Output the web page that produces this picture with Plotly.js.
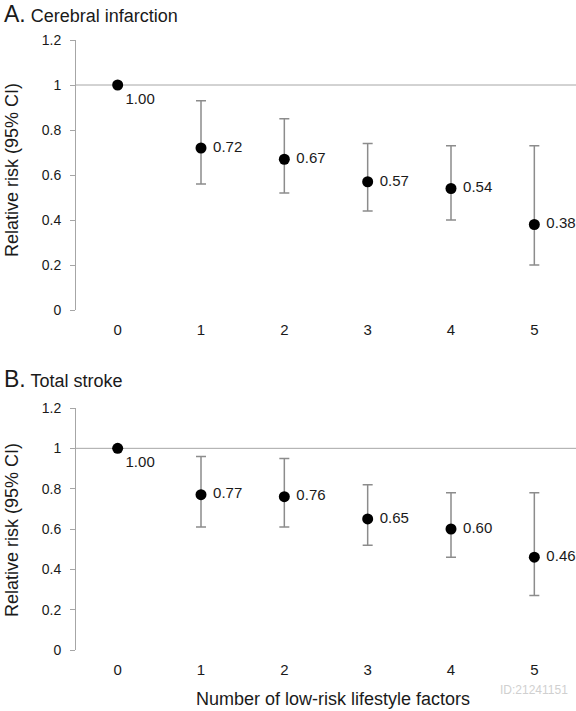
<!DOCTYPE html>
<html>
<head>
<meta charset="utf-8">
<script src="https://cdn.plot.ly/plotly-3.0.1.min.js"></script>
<style>
  html, body { margin: 0; padding: 0; background: #fff; }
  #chart { width: 576px; height: 711px; }
</style>
</head>
<body>
<div id="chart"></div>
<script>
// Categories: number of low-risk lifestyle factors
const factors = [0, 1, 2, 3, 4, 5];
const factorLabels = ['0', '1', '2', '3', '4', '5'];

// Panel A: Cerebral infarction
const ciRR = [1.00, 0.72, 0.67, 0.57, 0.54, 0.38];
const ciUpper = [1.00, 0.93, 0.85, 0.74, 0.73, 0.73];
const ciLower = [1.00, 0.56, 0.52, 0.44, 0.40, 0.20];

// Panel B: Total stroke
const tsRR = [1.00, 0.77, 0.76, 0.65, 0.60, 0.46];
const tsUpper = [1.00, 0.96, 0.95, 0.82, 0.78, 0.78];
const tsLower = [1.00, 0.61, 0.61, 0.52, 0.46, 0.27];

const yTicks = [0, 0.2, 0.4, 0.6, 0.8, 1, 1.2];
const yTickText = ['0', '0.2', '0.4', '0.6', '0.8', '1', '1.2'];

const FONT = 'Liberation Sans, Arial, sans-serif';
const TXT = '#1a1a1a';
const GRAY = '#a6a6a6';

function trace(rr, up, lo, xa, ya) {
  const hasBar = rr.map((v, i) => up[i] !== lo[i]);
  return {
    type: 'scatter',
    mode: 'markers+text',
    x: factors,
    y: rr,
    xaxis: xa, yaxis: ya,
    text: rr.map((v, i) => (i === 0 ? '' : '\u00a0') + v.toFixed(2)),
    textposition: rr.map((v, i) => i === 0 ? 'bottom right' : 'middle right'),
    textfont: { family: FONT, size: 15, color: TXT },
    marker: { color: '#000', size: 11 },
    error_y: {
      type: 'data', symmetric: false,
      array: up.map((u, i) => hasBar[i] ? u - rr[i] : 0),
      arrayminus: lo.map((l, i) => hasBar[i] ? rr[i] - l : 0),
      color: '#8c8c8c', thickness: 1.5, width: 5,
      visible: true
    },
    cliponaxis: false,
    hoverinfo: 'skip',
    showlegend: false
  };
}

const data = [
  trace(ciRR, ciUpper, ciLower, 'x', 'y'),
  trace(tsRR, tsUpper, tsLower, 'x2', 'y2')
];

const xCommon = {
  range: [-0.5, 5.5],
  tickvals: factors,
  ticktext: factorLabels,
  showline: false, zeroline: false, showgrid: false,
  ticks: '',
  ticklabelstandoff: 9,
  tickfont: { family: FONT, size: 15, color: TXT },
  domain: [76 / 576, 1],
  fixedrange: true,
  automargin: false
};
const yCommon = {
  range: [0, 1.2],
  tickvals: yTicks,
  ticktext: yTickText,
  showline: true, linecolor: GRAY, linewidth: 1,
  zeroline: false, showgrid: false,
  ticks: 'outside', ticklen: 5, tickcolor: GRAY, tickwidth: 1,
  ticklabelstandoff: 6,
  tickfont: { family: FONT, size: 14, color: TXT },
  fixedrange: true,
  automargin: false
};

const H = 711;
const layout = {
  width: 576, height: 711,
  margin: { l: 0, r: 0, t: 0, b: 0 },
  paper_bgcolor: '#fff', plot_bgcolor: '#fff',
  font: { family: FONT, color: TXT },
  xaxis: Object.assign({}, xCommon, { anchor: 'y' }),
  yaxis: Object.assign({}, yCommon, { anchor: 'x', domain: [1 - 310 / H, 1 - 40 / H] }),
  xaxis2: Object.assign({}, xCommon, { anchor: 'y2' }),
  yaxis2: Object.assign({}, yCommon, { anchor: 'x2', domain: [1 - 650 / H, 1 - 408 / H] }),
  shapes: [
    { type: 'line', xref: 'x domain', yref: 'y', x0: 0, x1: 1, y0: 1, y1: 1,
      line: { color: GRAY, width: 1 }, layer: 'below' },
    { type: 'line', xref: 'x2 domain', yref: 'y2', x0: 0, x1: 1, y0: 1, y1: 1,
      line: { color: GRAY, width: 1 }, layer: 'below' }
  ],
  annotations: [
    { xref: 'paper', yref: 'paper', x: 2 / 576, y: 1 - 14 / H, xanchor: 'left', yanchor: 'middle',
      text: '<span style="font-size:23px">A.</span> Cerebral infarction', showarrow: false,
      font: { family: FONT, size: 18, color: TXT } },
    { xref: 'paper', yref: 'paper', x: 2 / 576, y: 1 - 379 / H, xanchor: 'left', yanchor: 'middle',
      text: '<span style="font-size:23px">B.</span> Total stroke', showarrow: false,
      font: { family: FONT, size: 18, color: TXT } },
    { xref: 'paper', yref: 'paper', x: 12 / 576, y: 1 - 170 / H, xanchor: 'center', yanchor: 'middle',
      text: 'Relative risk (95% CI)', textangle: -90, showarrow: false,
      font: { family: FONT, size: 18, color: TXT } },
    { xref: 'paper', yref: 'paper', x: 12 / 576, y: 1 - 530 / H, xanchor: 'center', yanchor: 'middle',
      text: 'Relative risk (95% CI)', textangle: -90, showarrow: false,
      font: { family: FONT, size: 18, color: TXT } },
    { xref: 'paper', yref: 'paper', x: 333 / 576, y: 1 - 699 / H, xanchor: 'center', yanchor: 'middle',
      text: 'Number of low-risk lifestyle factors', showarrow: false,
      font: { family: FONT, size: 18, color: TXT } },
    { xref: 'paper', yref: 'paper', x: 570 / 576, y: 1 - 690 / H, xanchor: 'right', yanchor: 'middle',
      text: 'ID:21241151', showarrow: false,
      font: { family: FONT, size: 12, color: '#d0d0d0' } }
  ]
};

Plotly.newPlot('chart', data, layout, { displayModeBar: false, staticPlot: true });
</script>
</body>
</html>
